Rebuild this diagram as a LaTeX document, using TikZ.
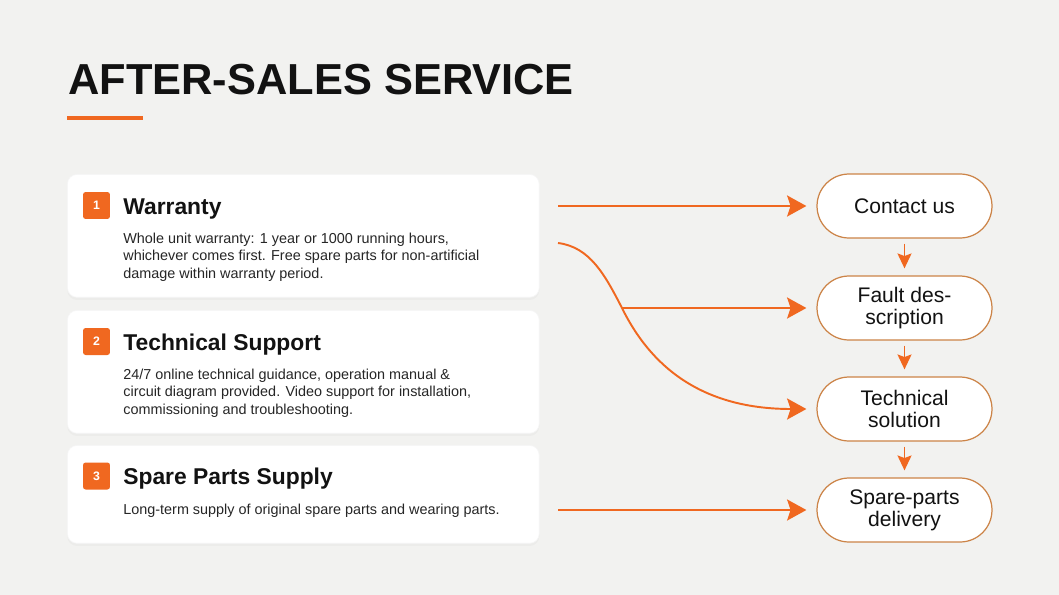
\documentclass[tikz,border=0pt]{standalone}
\usepackage{fontspec}
\setmainfont{Liberation Sans}
\usetikzlibrary{arrows.meta,shadows}
\definecolor{orng}{RGB}{240,104,32}
\definecolor{pillline}{RGB}{204,132,72}
\definecolor{bg}{RGB}{242,242,240}
\definecolor{ink}{RGB}{18,18,18}
\definecolor{body}{RGB}{38,38,38}

\begin{document}
\begin{tikzpicture}[>={Stealth[length=11pt,width=12pt,inset=2pt]},x=0.02cm,y=-0.02cm,
  card/.style={fill=white,draw=black!4,rounded corners=5.5pt,anchor=north west,inner sep=0pt,minimum width=9.44cm,
    drop shadow={opacity=0.05,shadow xshift=0pt,shadow yshift=-1.5pt}},
  badge/.style={fill=orng,rounded corners=1.5pt,minimum size=0.54cm,inner sep=0pt,text=white,
    font=\bfseries\fontsize{7pt}{8pt}\selectfont},
  head/.style={anchor=base west,inner sep=0pt,text=ink,font=\bfseries\fontsize{13pt}{15pt}\selectfont},
  txt/.style={anchor=base west,inner sep=0pt,align=left,text=body,font=\fontsize{8.2pt}{9.9pt}\selectfont},
  pill/.style={draw=pillline,line width=0.7pt,fill=white,rounded corners=0.64cm,minimum width=3.5cm,
    minimum height=1.28cm,inner sep=0pt,align=center,text=ink,font=\fontsize{12pt}{12.5pt}\selectfont},
  flow/.style={->,orng,line width=1.1pt,shorten >=5.7pt},
  down/.style={-{Stealth[length=8.5pt,width=8pt,inset=1.5pt]},orng,line width=0.9pt,shorten <=2.8pt,shorten >=4pt}]
\fill[bg] (0,0) rectangle (1059,595);
\node[anchor=base west,inner sep=0pt,text=ink,font=\bfseries\fontsize{24.7pt}{28pt}\selectfont] (title) at (68,94) {AFTER-SALES SERVICE};
\draw[orng,line width=2.2pt] (67,118) -- (143,118);

\node[card,minimum height=2.46cm] (W) at (67,174) {};
\node[card,minimum height=2.46cm] (T) at (67,310) {};
\node[card,minimum height=1.96cm] (P) at (67,445) {};
\node[badge] (n1) at (96.5,205.5) {1};\node[head] (h1) at (123,214) {Warranty};
\node[txt] (t1) at (123,278) {Whole unit warranty: 1 year or 1000 running hours,\\whichever comes first. Free spare parts for non-artificial\\damage within warranty period.};
\node[badge] (n2) at (96.5,341.5) {2};\node[head] (h2) at (123,350) {Technical Support};
\node[txt] (t2) at (123,414) {24/7 online technical guidance, operation manual \&\\circuit diagram provided. Video support for installation,\\commissioning and troubleshooting.};
\node[badge] (n3) at (96.5,476) {3};\node[head] (h3) at (123,484) {Spare Parts Supply};
\node[txt] (t3) at (123,514) {Long-term supply of original spare parts and wearing parts.};

\node[pill] (C) at (904.5,206) {Contact us};
\node[pill] (F) at (904.5,308) {Fault des-\\scription};
\node[pill] (S) at (904.5,409) {Technical\\solution};
\node[pill] (D) at (904.5,510) {Spare-parts\\delivery};

\coordinate (a1) at (558,206);\coordinate (a2) at (558,243);
\coordinate (a3) at (622,308);\coordinate (a4) at (558,510);
\draw[flow] (a1)--(C.west);
\draw[flow] (a3)--(F.west);
\draw[flow] (a2) .. controls (590,247) and (605,275) .. (a3) .. controls (650,365) and (700,409) .. (S.west);
\draw[flow] (a4)--(D.west);
\draw[down] (C)--(F);\draw[down] (F)--(S);\draw[down] (S)--(D);
\end{tikzpicture}
\end{document}
